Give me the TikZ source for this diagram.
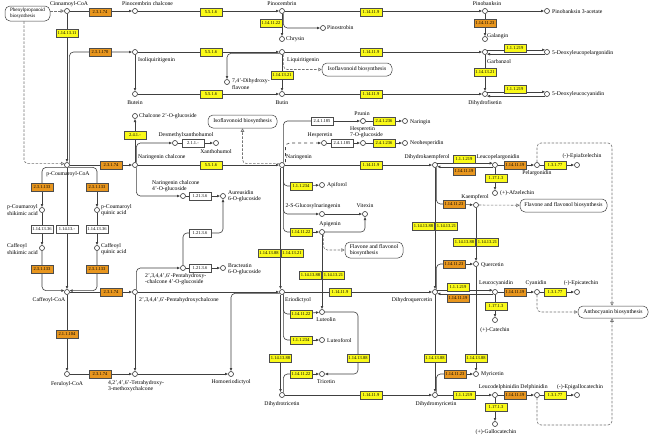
\documentclass[tikz,border=0pt]{standalone}
\usepackage{fontspec}
\setmainfont{Liberation Serif}
\usetikzlibrary{arrows.meta,backgrounds}
\definecolor{enzY}{RGB}{250,250,25}
\definecolor{enzO}{RGB}{232,150,30}

\begin{document}
\begin{tikzpicture}[x=1pt, y=-1pt,
    cpd/.style={circle, draw=black!80, fill=white, line width=0.6pt, inner sep=0pt, minimum size=5pt},
    enz/.style={rectangle, draw=black!70, fill=enzY, line width=0.5pt, inner sep=0pt, minimum width=22pt, minimum height=8pt, font=\fontsize{4.5}{5}\selectfont},
    enzO/.style={enz, fill=enzO},
    enzW/.style={enz, fill=white},
    lbl/.style={inner sep=0pt, font=\fontsize{5.7}{6.3}\selectfont},
    mapbox/.style={draw=black!75, fill=white, rounded corners=5pt, line width=0.5pt, inner sep=1pt, font=\fontsize{5.7}{6.3}\selectfont},
    rxn/.style={draw=black!75, line width=0.6pt, rounded corners=4pt},
    arr/.style={-{Latex[length=3.2pt,width=2.8pt]}},
    maplink/.style={draw=black!55, line width=0.6pt, dash pattern=on 2.5pt off 1.5pt, rounded corners=4pt, -{Triangle[open,length=3.5pt,width=3.5pt]}}]
    \useasboundingbox (0,0) rectangle (650,437);

    % compounds
    \node[cpd] (cinn) at (67,11) {};
    \node[cpd] (pinochal) at (135,11) {};
    \node[cpd] (pinoc) at (282,11) {};
    \node[cpd] (chrysin) at (282,39) {};
    \node[cpd] (pinostr) at (323,28) {};
    \node[cpd] (pinob) at (485,11) {};
    \node[cpd] (pinob3) at (547,11) {};
    \node[cpd] (galang) at (485,39) {};
    \node[cpd] (isoliq) at (135,52) {};
    \node[cpd] (liquir) at (282,52) {};
    \node[cpd] (dhflav) at (227,82) {};
    \node[cpd] (garb) at (485,52) {};
    \node[cpd] (dlpel) at (547,52) {};
    \node[cpd] (butein) at (135,94) {};
    \node[cpd] (butin) at (282,94) {};
    \node[cpd] (dhfis) at (485,94) {};
    \node[cpd] (dlcy) at (547,94) {};
    \node[cpd] (chalglc) at (135,116) {};
    \node[cpd] (desmx) at (175,143) {};
    \node[cpd] (xanth) at (216,143) {};
    \node[cpd] (prunin) at (363,121) {};
    \node[cpd] (naringin) at (405,121) {};
    \node[cpd] (hesp) at (324,143) {};
    \node[cpd] (hespglc) at (363,143) {};
    \node[cpd] (neohesp) at (405,143) {};
    \node[cpd] (pcoum) at (67,165) {};
    \node[cpd] (narchal) at (135,165) {};
    \node[cpd] (naring) at (282,165) {};
    \node[cpd] (dhk) at (435,165) {};
    \node[cpd] (lpel) at (495,165) {};
    \node[cpd] (pelarg) at (537,165) {};
    \node[cpd] (epiafz) at (577,165) {};
    \node[cpd] (afzel) at (495,193) {};
    \node[cpd] (apif) at (322,185) {};
    \node[cpd] (kaemp) at (476,205) {};
    \node[cpd] (glcnar) at (322,214) {};
    \node[cpd] (vitex) at (365,214) {};
    \node[cpd] (apig) at (322,232) {};
    \node[cpd] (pcshik) at (42,210) {};
    \node[cpd] (pcquin) at (97,210) {};
    \node[cpd] (cashik) at (42,248) {};
    \node[cpd] (caquin) at (97,248) {};
    \node[cpd] (narglc) at (183,196) {};
    \node[cpd] (aureus) at (223,196) {};
    \node[cpd] (pentglc) at (183,268) {};
    \node[cpd] (bract) at (223,268) {};
    \node[cpd] (querc) at (476,264) {};
    \node[cpd] (caffcoa) at (67,292) {};
    \node[cpd] (pentchal) at (135,292) {};
    \node[cpd] (eriod) at (282,292) {};
    \node[cpd] (dhq) at (435,292) {};
    \node[cpd] (lcy) at (495,292) {};
    \node[cpd] (cyan) at (537,292) {};
    \node[cpd] (epicat) at (577,292) {};
    \node[cpd] (catech) at (495,320) {};
    \node[cpd] (luteol) at (322,312) {};
    \node[cpd] (lutfor) at (322,340) {};
    \node[cpd] (ferul) at (67,374) {};
    \node[cpd] (tetchal) at (135,374) {};
    \node[cpd] (homoer) at (231,374) {};
    \node[cpd] (tricet) at (322,374) {};
    \node[cpd] (myric) at (476,374) {};
    \node[cpd] (dhtri) at (282,395) {};
    \node[cpd] (dhm) at (435,395) {};
    \node[cpd] (ldel) at (495,395) {};
    \node[cpd] (delph) at (537,395) {};
    \node[cpd] (epigal) at (577,395) {};
    \node[cpd] (galcat) at (495,424) {};
    \coordinate (c1) at (612,143);
    \coordinate (c2) at (612,425);
    \coordinate (c3) at (358,343);

    % compound names
    \node[lbl] (tcinn) at (69,4) {Cinnamoyl-CoA};
    \node[lbl, anchor=west] (tpinochal) at (122,4) {Pinocembrin chalcone};
    \node[lbl] (tpinoc) at (282,4) {Pinocembrin};
    \node[lbl, anchor=west] (tchrysin) at (286,39) {Chrysin};
    \node[lbl, anchor=west] (tpinostr) at (327,28) {Pinostrobin};
    \node[lbl] (tpinob) at (487,4) {Pinobanksin};
    \node[lbl, anchor=west] (tpinob3) at (552,12) {Pinobanksin 3-acetate};
    \node[lbl, anchor=west] (tgalang) at (487,36) {Galangin};
    \node[lbl, anchor=west] (tisoliq) at (138,60) {Isoliquiritigenin};
    \node[lbl, anchor=west] (tliquir) at (287,60) {Liquiritigenin};
    \node[lbl, anchor=west, align=left] (tdhflav) at (232,84) {7,4'-Dihydroxy-\\flavone};
    \node[lbl, anchor=west] (tgarb) at (487,62) {Garbanzol};
    \node[lbl, anchor=west] (tdlpel) at (552,53) {5-Deoxyleucopelargonidin};
    \node[lbl] (tbutein) at (135,103) {Butein};
    \node[lbl] (tbutin) at (282,103) {Butin};
    \node[lbl] (tdhfis) at (485,103) {Dihydrofisetin};
    \node[lbl, anchor=west] (tdlcy) at (552,94) {5-Deoxyleucocyanidin};
    \node[lbl, anchor=west] (tchalglc) at (139,116) {Chalcone 2'-O-glucoside};
    \node[lbl] (tdesmx) at (186,135) {Desmethylxanthohumol};
    \node[lbl] (txanth) at (216,152) {Xanthohumol};
    \node[lbl] (tprunin) at (362,114) {Prunin};
    \node[lbl, anchor=west] (tnaringin) at (410,122) {Naringin};
    \node[lbl] (thesp) at (320,135) {Hesperetin};
    \node[lbl, anchor=west, align=left] (thespglc) at (350,132) {Hesperetin\\7-O-glucoside};
    \node[lbl, anchor=west] (tneohesp) at (410,143) {Neohesperidin};
    \node[lbl] (tpcoum) at (68,174) {p-Coumaroyl-CoA};
    \node[lbl, anchor=west] (tnarchal) at (138,157) {Naringenin chalcone};
    \node[lbl, anchor=west] (tnaring) at (286,157) {Naringenin};
    \node[lbl] (tdhk) at (427,157) {Dihydrokaempferol};
    \node[lbl] (tlpel) at (498,157) {Leucopelargonidin};
    \node[lbl] (tpelarg) at (537,173) {Pelargonidin};
    \node[lbl] (tepiafz) at (582,156) {(-)-Epiafzelechin};
    \node[lbl, anchor=west] (tafzel) at (500,193) {(+)-Afzelechin};
    \node[lbl, anchor=west, align=left] (tnarglc) at (152,186) {Naringenin chalcone\\4'-O-glucoside};
    \node[lbl, anchor=west, align=left] (taureus) at (228,196) {Aureusidin\\6-O-glucoside};
    \node[lbl, anchor=west] (tapif) at (327,185) {Apiforol};
    \node[lbl] (tglcnar) at (313,206) {2-S-Glucosylnaringenin};
    \node[lbl] (tvitex) at (365,206) {Vitexin};
    \node[lbl] (tapig) at (330,224) {Apigenin};
    \node[lbl] (tkaemp) at (475,197) {Kaempferol};
    \node[lbl, anchor=west, align=left] (tpcshik) at (7,210) {p-Coumaroyl\\shikimic acid};
    \node[lbl, anchor=west, align=left] (tpcquin) at (101,210) {p-Coumaroyl\\quinic acid};
    \node[lbl, anchor=west, align=left] (tcashik) at (7,249) {Caffeoyl\\shikimic acid};
    \node[lbl, anchor=west, align=left] (tcaquin) at (101,249) {Caffeoyl\\quinic acid};
    \node[lbl, anchor=west, align=left] (tbract) at (228,269) {Bracteatin\\6-O-glucoside};
    \node[lbl, anchor=west, align=left] (tpentglc) at (145,279) {2',3,4,4',6'-Pentahydroxy-\\-chalcone 4'-O-glucoside};
    \node[lbl, anchor=west] (tquerc) at (481,265) {Quercetin};
    \node[lbl] (tcaffcoa) at (49,300) {Caffeoyl-CoA};
    \node[lbl, anchor=west] (tpentchal) at (139,300) {2',3,4,4',6'-Pentahydroxychalcone};
    \node[lbl, anchor=west] (teriod) at (285,300) {Eriodictyol};
    \node[lbl] (tdhq) at (412,300) {Dihydroquercetin};
    \node[lbl] (tlcy) at (496,283) {Leucocyanidin};
    \node[lbl] (tcyan) at (536,283) {Cyanidin};
    \node[lbl] (tepicat) at (581,283) {(-)-Epicatechin};
    \node[lbl] (tcatech) at (495,330) {(+)-Catechin};
    \node[lbl] (tluteol) at (326,320) {Luteolin};
    \node[lbl, anchor=west] (tlutfor) at (327,341) {Luteoforol};
    \node[lbl] (tferul) at (67,384) {Feruloyl-CoA};
    \node[lbl, anchor=west, align=left] (ttetchal) at (108,386) {4,2',4',6'-Tetrahydroxy-\\3-methoxychalcone};
    \node[lbl] (thomoer) at (231,382) {Homoeriodictyol};
    \node[lbl] (ttricet) at (326,382) {Tricetin};
    \node[lbl, anchor=west] (tmyric) at (481,374) {Myricetin};
    \node[lbl] (tdhtri) at (282,404) {Dihydrotricetin};
    \node[lbl] (tdhm) at (436,404) {Dihydromyricetin};
    \node[lbl] (tldel) at (499,387) {Leucodelphinidin};
    \node[lbl] (tdelph) at (534,387) {Delphinidin};
    \node[lbl] (tepigal) at (580,387) {(-)-Epigallocatechin};
    \node[lbl] (tgalcat) at (496,432) {(+)-Gallocatechin};

    % linked maps
    \node[mapbox, align=left, minimum width=45pt, minimum height=15pt, inner sep=0.5pt, font=\fontsize{5.1}{5.8}\selectfont] (phenyl) at (27.5,13.5) {Phenylpropanoid\\biosynthesis};
    \node[mapbox, minimum width=70pt, minimum height=13pt] (isoflav1) at (357,69.5) {Isoflavonoid biosynthesis};
    \node[mapbox, minimum width=69pt, minimum height=13pt] (isoflav2) at (242.5,121.5) {Isoflavonoid biosynthesis};
    \node[mapbox, align=left, minimum width=58pt, minimum height=16pt] (flav1) at (374,250) {Flavone and flavonol\\biosynthesis};
    \node[mapbox, minimum width=87pt, minimum height=13pt] (flav2) at (563.5,205.5) {Flavone and flavonol biosynthesis};
    \node[mapbox, minimum width=70pt, minimum height=12pt] (antho) at (613,312) {Anthocyanin biosynthesis};

    % enzymes
    \node[enzO] (e1) at (100,12) {2.3.1.74};
    \node[enz] (e2) at (211,12) {5.5.1.6};
    \node[enz] (e3) at (371,12) {1.14.11.9};
    \node[enz] (e4) at (271,23) {1.14.11.22};
    \node[enzO] (e5) at (485,23) {1.14.11.23};
    \node[enz] (e6) at (67,33) {1.14.13.11};
    \node[enzO] (e7) at (100,52) {2.3.1.170};
    \node[enz] (e8) at (211,52) {5.5.1.6};
    \node[enz] (e9) at (371,52) {1.14.11.9};
    \node[enz] (e10) at (515,48) {1.1.1.219};
    \node[enz] (e11) at (282,75) {1.14.13.21};
    \node[enz] (e12) at (485,72) {1.14.13.21};
    \node[enz] (e13) at (211,94) {5.5.1.6};
    \node[enz] (e14) at (371,94) {1.14.11.9};
    \node[enz] (e15) at (515,89) {1.1.1.219};
    \node[enz] (e16) at (135,135) {2.4.1.-};
    \node[enzW] (e17) at (193,143) {2.1.1.-};
    \node[enzW] (e18) at (322,121) {2.4.1.185};
    \node[enz] (e19) at (384,121) {2.4.1.236};
    \node[enzW] (e20) at (342,143) {2.4.1.185};
    \node[enz] (e21) at (384,143) {2.4.1.236};
    \node[enzO] (e22) at (111,165) {2.3.1.74};
    \node[enz] (e23) at (211,165) {5.5.1.6};
    \node[enz] (e24) at (371,165) {1.14.11.9};
    \node[enz] (e25) at (464,159) {1.1.1.219};
    \node[enzO] (e26) at (464,171) {1.14.11.19};
    \node[enzO] (e27) at (515,165) {1.14.11.19};
    \node[enz] (e28) at (555,165) {1.3.1.77};
    \node[enz] (e29) at (496,178) {1.17.1.3};
    \node[enzO] (e30) at (42,187) {2.3.1.133};
    \node[enzO] (e31) at (97,187) {2.3.1.133};
    \node[enzW] (e32) at (42,229) {1.14.13.36};
    \node[enzW] (e33) at (67,229) {1.14.13.-};
    \node[enzW] (e34) at (97,229) {1.14.13.36};
    \node[enzO] (e35) at (42,269) {2.3.1.133};
    \node[enzO] (e36) at (97,269) {2.3.1.133};
    \node[enzW] (e37) at (200,196) {1.21.3.6};
    \node[enzW] (e38) at (200,233) {1.21.3.6};
    \node[enzW] (e39) at (200,268) {1.21.3.6};
    \node[enz] (e40) at (301,186) {1.1.1.234};
    \node[enz] (e41) at (301,232) {1.14.11.22};
    \node[enz] (e42) at (269,253) {1.14.13.88};
    \node[enz] (e43) at (292,253) {1.14.13.21};
    \node[enz] (e44) at (310.5,275) {1.14.13.88};
    \node[enz] (e45) at (333.5,275) {1.14.13.21};
    \node[enzO] (e46) at (454,204) {1.14.11.23};
    \node[enz] (e47) at (423.5,226) {1.14.13.88};
    \node[enz] (e48) at (446.5,226) {1.14.13.21};
    \node[enz] (e49) at (464.5,242) {1.14.13.88};
    \node[enz] (e50) at (487.5,242) {1.14.13.21};
    \node[enzO] (e51) at (454,264) {1.14.11.23};
    \node[enzO] (e52) at (111,292) {2.3.1.74};
    \node[enz] (e53) at (340,292) {1.14.11.9};
    \node[enz] (e54) at (458,287) {1.1.1.219};
    \node[enzO] (e55) at (458,298) {1.14.11.19};
    \node[enzO] (e56) at (515,292) {1.14.11.19};
    \node[enz] (e57) at (555,292) {1.3.1.77};
    \node[enz] (e58) at (496,306) {1.17.1.3};
    \node[enzO] (e59) at (67,334) {2.1.1.104};
    \node[enz] (e60) at (301,314) {1.14.11.22};
    \node[enz] (e61) at (301,340) {1.1.1.234};
    \node[enz] (e62) at (280.5,358) {1.14.13.88};
    \node[enz] (e63) at (358,358) {1.14.13.88};
    \node[enz] (e64) at (435,358) {1.14.13.88};
    \node[enz] (e65) at (476,358) {1.14.13.88};
    \node[enzO] (e66) at (100,374) {2.3.1.74};
    \node[enz] (e67) at (301,374) {1.14.11.22};
    \node[enzO] (e68) at (455,374) {1.14.11.23};
    \node[enz] (e69) at (371,395) {1.14.11.9};
    \node[enz] (e70) at (464,395) {1.1.1.219};
    \node[enzO] (e71) at (515,395) {1.14.11.19};
    \node[enz] (e72) at (555,395) {1.3.1.77};
    \node[enz] (e73) at (496,407) {1.17.1.3};

    % reactions, under the boxes
    \begin{scope}[on background layer]
    \fill[white] (0,0) rectangle (650,437);
    \draw[maplink] (phenyl.east |- cinn) -- (cinn);
    \draw[maplink] ([xshift=-3.5pt]phenyl.south) |- (pcoum.150);
    \draw[rxn, arr] (cinn) -- (pinochal);
    \draw[rxn, arr] (pinochal) -- (pinoc);
    \draw[rxn, arr] (pinoc) -- (pinob);
    \draw[rxn, arr] (pinob) -- (pinob3);
    \draw[rxn, arr] (pinoc) -- (chrysin);
    \draw[rxn, arr] (pinoc.-60) |- (pinostr);
    \draw[rxn, arr] (pinob) -- (galang);
    \draw[rxn, arr] (cinn) -- (pcoum);
    \draw[rxn, arr] (pcoum.30) |- (isoliq);
    \draw[rxn, arr] (isoliq) -- (liquir);
    \draw[rxn, arr] (liquir) -- (garb);
    \draw[rxn, arr] (isoliq) -- (butein);
    \draw[rxn, arr] (liquir.-150) -| (dhflav);
    \draw[rxn, arr] (liquir) -- (butin);
    \draw[maplink] (liquir.-60) |- (isoflav1);
    \draw[rxn, arr] (garb.50) -- (dlpel.130);
    \draw[rxn, arr] (dlpel.-130) -- (garb.-50);
    \draw[rxn, arr] (garb) -- (dhfis);
    \draw[rxn, arr] (butein) -- (butin);
    \draw[rxn, arr] (butin) -- (dhfis);
    \draw[rxn, arr] (dhfis.50) -- (dlcy.130);
    \draw[rxn, arr] (dlcy.-130) -- (dhfis.-50);
    % chalcones
    \draw[rxn, arr] (pcoum) -- (narchal);
    \draw[rxn, arr] (narchal) -- (naring);
    \draw[rxn, arr] (narchal) -- (chalglc);
    \draw[rxn, arr] (narchal.60) |- (desmx);
    \draw[rxn, arr] (desmx) -- (xanth);
    \draw[rxn, arr] (narchal.-60) |- (narglc);
    \draw[rxn, arr] (narglc) -- (aureus);
    \draw[rxn, arr] (pentglc) |- (e38) -| (aureus);
    \draw[rxn, arr] (pentchal.60) |- (pentglc);
    \draw[rxn, arr] (pentglc) -- (bract);
    % p-coumaroyl loop
    \draw[rxn] (pcoum.-120) -| (e30);
    \draw[rxn, arr] (e30) -- (pcshik);
    \draw[rxn, arr] (pcshik) -- (cashik);
    \draw[rxn, arr] (cashik) -- (e35) |- (caffcoa.150);
    \draw[rxn] (pcoum.-60) -| (e31);
    \draw[rxn, arr] (e31) -- (pcquin);
    \draw[rxn, arr] (pcquin) -- (caquin);
    \draw[rxn, arr] (caquin) -- (e36) |- (caffcoa.30);
    \draw[rxn, arr] (pcoum) -- (caffcoa);
    \draw[rxn, arr] (caffcoa) -- (pentchal);
    \draw[rxn, arr] (pentchal) -- (eriod);
    \draw[rxn, arr] (pentchal) -- (tetchal);
    \draw[rxn, arr] (caffcoa) -- (ferul);
    \draw[rxn, arr] (ferul) -- (tetchal);
    \draw[rxn, arr] (tetchal) -- (homoer);
    \draw[rxn, arr] (eriod.-150) -| (homoer);
    % naringenin
    \draw[rxn] (naring.60) |- (e18);
    \draw[rxn, arr] (e18) -- (prunin);
    \draw[rxn, arr] (prunin) -- (naringin);
    \draw[rxn, dashed, arr] ([xshift=3.5pt]naring.north) |- (hesp);
    \draw[rxn, arr] (hesp) -- (hespglc);
    \draw[rxn, arr] (hespglc) -- (neohesp);
    \draw[maplink] (naring.150) -| (isoflav2);
    \draw[rxn, arr] (naring) -- (dhk);
    \draw[rxn] (naring.-60) |- (e40);
    \draw[rxn, arr] (e40) -- (apif);
    \draw[rxn, arr] (naring.-60) |- (glcnar);
    \draw[rxn] (naring.-60) |- (e41);
    \draw[rxn, arr] (e41) -- (apig);
    \draw[rxn, arr] ([xshift=-1.5pt]naring.south) -- ([xshift=-1.5pt]eriod.north);
    \draw[rxn, arr] (glcnar) -- (vitex);
    \draw[rxn, arr] (apig) -| (vitex);
    \draw[maplink] (apig.-60) |- (flav1);
    \draw[rxn, arr] (apig) -- (luteol);
    % dihydroflavonols
    \draw[rxn, arr] (dhk.40) -- (lpel.140);
    \draw[rxn, arr] (lpel.-140) -- (dhk.-40);
    \draw[rxn, arr] (lpel) -- (pelarg);
    \draw[rxn, arr] (pelarg) -- (epiafz);
    \draw[rxn, arr] (lpel) -- (afzel);
    \draw[maplink] (pelarg) |- (c1) -- (c1 |- antho.north);
    \draw[rxn] (dhk.-60) |- (e46);
    \draw[rxn, arr] (e46) -- (kaemp);
    \draw[maplink] (kaemp) -- (flav2);
    \draw[rxn, arr] (kaemp) -- (querc);
    \draw[rxn, arr] (dhk) -- (dhq);
    \draw[rxn] (dhq.60) |- (e51);
    \draw[rxn, arr] (e51) -- (querc);
    \draw[rxn, arr] (eriod) -- (dhq);
    \draw[rxn, arr] (dhq.40) -- (lcy.140);
    \draw[rxn, arr] (lcy.-140) -- (dhq.-40);
    \draw[rxn, arr] (lcy) -- (cyan);
    \draw[rxn, arr] (cyan) -- (epicat);
    \draw[rxn, arr] (lcy) -- (catech);
    \draw[maplink] (cyan) |- (antho);
    \draw[maplink] (delph) |- (c2) -- (c2 |- antho.south);
    % eriodictyol and below
    \draw[rxn] (eriod.-60) |- (e60);
    \draw[rxn, arr] (e60) -- (luteol);
    \draw[rxn] (eriod.-60) |- (e61);
    \draw[rxn, arr] (e61) -- (lutfor);
    \draw[rxn, arr] ([xshift=-1.5pt]eriod.south) -- ([xshift=-1.5pt]dhtri.north);
    \draw[rxn] (dhtri.60) |- (e67);
    \draw[rxn, arr] (e67) -- (tricet);
    \draw[rxn, arr] (luteol) -| (c3) |- (tricet);
    \draw[rxn, arr] (dhtri) -- (dhm);
    \draw[rxn, arr] (dhq) -- (dhm);
    \draw[rxn, arr] (querc) -- (myric);
    \draw[rxn] (dhm.60) |- (e68);
    \draw[rxn, arr] (e68) -- (myric);
    \draw[rxn, arr] (dhm) -- (ldel);
    \draw[rxn, arr] (ldel) -- (delph);
    \draw[rxn, arr] (delph) -- (epigal);
    \draw[rxn, arr] (ldel) -- (galcat);
    \end{scope}

\end{tikzpicture}
\end{document}
